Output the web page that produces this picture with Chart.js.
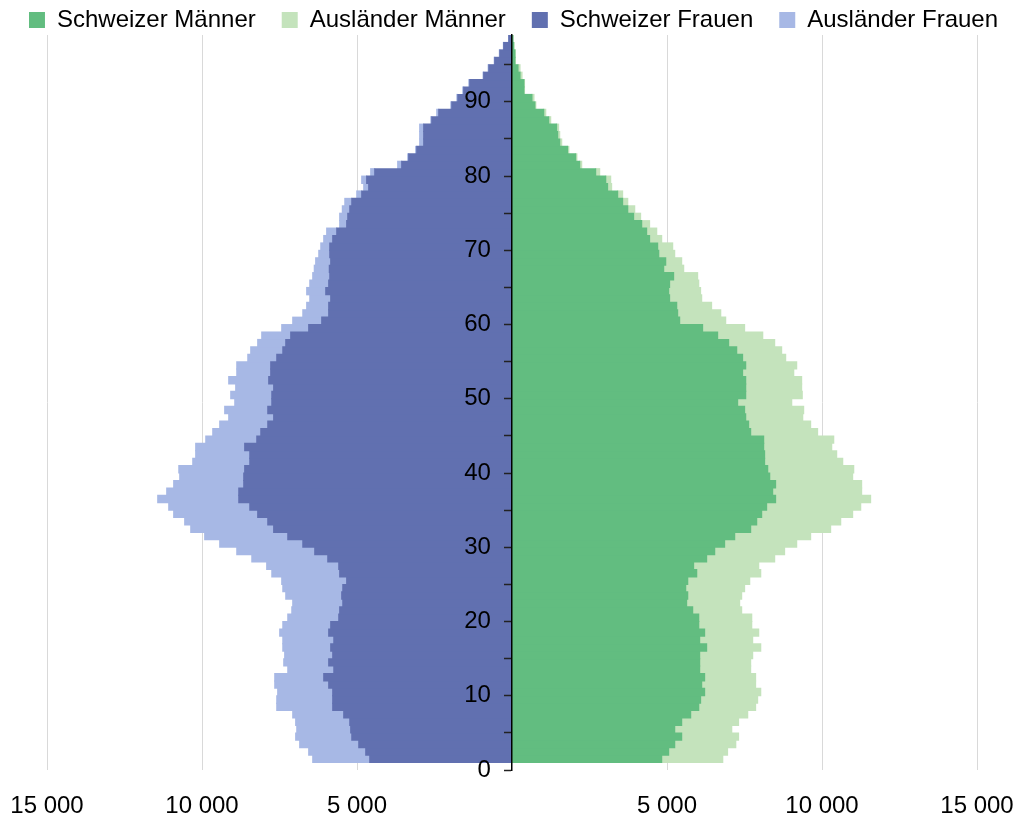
<!DOCTYPE html>
<html>
<head>
<meta charset="utf-8">
<script src="https://cdn.jsdelivr.net/npm/chart.js@4.4.1/dist/chart.umd.min.js"></script>
<style>
  html, body { margin: 0; padding: 0; background: #fff; }
  #wrap { width: 1027px; height: 820px; position: relative; }
</style>
</head>
<body>
<div id="wrap"><canvas id="pyramid"></canvas></div>
<script>
// one bar per age slot, bar k covers [k, k+1] on the age axis
const ages = [
  1, 2, 3, 4, 5, 6, 7, 8, 9, 10, 11, 12, 13, 14, 15, 16, 17, 18, 19, 20,
  21, 22, 23, 24, 25, 26, 27, 28, 29, 30, 31, 32, 33, 34, 35, 36, 37, 38, 39, 40,
  41, 42, 43, 44, 45, 46, 47, 48, 49, 50, 51, 52, 53, 54, 55, 56, 57, 58, 59, 60,
  61, 62, 63, 64, 65, 66, 67, 68, 69, 70, 71, 72, 73, 74, 75, 76, 77, 78, 79, 80,
  81, 82, 83, 84, 85, 86, 87, 88, 89, 90, 91, 92, 93, 94, 95, 96, 97, 98,
];

const schweizerMaenner = [
  4830, 5055, 5250, 5475, 5250, 5475, 5765, 6025, 6085, 6215,
  6120, 6215, 6055, 6055, 6055, 6280, 6055, 6215, 6025, 6025,
  5830, 5635, 5670, 5605, 5670, 5960, 5860, 6280, 6540, 6860,
  7185, 7700, 7895, 8055, 8215, 8505, 8410, 8505, 8315, 8250,
  8150, 8150, 8120, 8120, 7700, 7635, 7540, 7505, 7280, 7540,
  7540, 7540, 7440, 7540, 7440, 7250, 6990, 6635, 6150, 5410,
  5345, 5315, 5085, 5055, 5085, 5215, 4895, 4960, 4735, 4700,
  4440, 4345, 4185, 3925, 3735, 3570, 3410, 3085, 3025, 2700,
  2185, 2055, 1795, 1540, 1475, 1440, 1185, 1025, 740, 645,
  385, 385, 260, 195, 95, 95, 55, 30,
];

const auslaenderMaenner = [
  1970, 1900, 1970, 1835, 1840, 1835, 1840, 1835, 1840, 1810,
  1740, 1645, 1645, 1645, 1710, 1745, 1710, 1745, 1710, 1710,
  1580, 1710, 1740, 1900, 2000, 2065, 2100, 2195, 2255, 2325,
  2450, 2580, 2710, 2935, 3035, 3065, 2870, 2775, 2675, 2775,
  2520, 2325, 2195, 2260, 2160, 2000, 1840, 1905, 1745, 1825,
  1805, 1805, 1650, 1645, 1390, 1450, 1485, 1455, 1355, 1485,
  1390, 1125, 1035, 1030, 940, 775, 645, 515, 515, 485,
  390, 325, 255, 225, 225, 165, 160, 130, 160, 130,
  65, 40, 40, 65, 65, 65, 65, 65, 30, 65,
  20, 20, 65, 65, 15, 10, 10, 5,
];

const schweizerFrauen = [
  4590, 4720, 4945, 5170, 5205, 5235, 5430, 5785, 5785, 5785,
  5915, 6075, 5750, 5915, 5785, 5850, 5750, 5915, 5850, 5590,
  5560, 5460, 5495, 5460, 5335, 5560, 5590, 5945, 6365, 6750,
  7235, 7690, 7880, 8205, 8460, 8815, 8815, 8655, 8655, 8625,
  8460, 8460, 8625, 8235, 8105, 7880, 7690, 7880, 7750, 7750,
  7690, 7850, 7785, 7785, 7590, 7395, 7300, 7140, 6560, 6140,
  5915, 5915, 5850, 6010, 5915, 5880, 5895, 5850, 5880, 5880,
  5785, 5655, 5335, 5300, 5235, 5170, 4850, 4625, 4690, 4430,
  3560, 3335, 3075, 2850, 2850, 2850, 2590, 2365, 1945, 1750,
  1560, 1365, 915, 750, 560, 395, 270, 105,
];

const auslaenderFrauen = [
  1840, 1840, 1905, 1810, 1740, 1745, 1645, 1805, 1805, 1775,
  1740, 1580, 1485, 1450, 1550, 1545, 1645, 1580, 1545, 1645,
  1545, 1615, 1805, 1935, 2095, 2190, 2325, 2450, 2515, 2680,
  2680, 2675, 2680, 2710, 2615, 2615, 2325, 2260, 2065, 2125,
  1840, 1745, 1580, 1645, 1550, 1550, 1450, 1390, 1195, 1325,
  1225, 1290, 1095, 1095, 935, 1035, 905, 935, 870, 935,
  835, 710, 675, 615, 610, 550, 485, 485, 355, 290,
  290, 325, 225, 260, 240, 225, 160, 160, 160, 130,
  130, 30, 35, 130, 130, 130, 30, 65, 30, 30,
  30, 30, 20, 20, 15, 15, 10, 5,
];

function thousands(v) {
  return String(Math.abs(v)).replace(/\B(?=(\d{3})+(?!\d))/g, " ");
}

// women go to the left, so their values are drawn negative
function toPoints(values, sign) {
  return values.map((v, i) => ({ x: sign * v, y: ages[i] + 0.5 }));
}

// legend sits higher than chart.js would put it
const legendHeight = {
  id: "legendHeight",
  beforeInit(chart) {
    const fit = chart.legend.fit;
    chart.legend.fit = function () {
      fit.call(this);
      this.height = 53;
    };
  },
};

Chart.defaults.font.family = "'Liberation Sans', Arial, sans-serif";
Chart.defaults.font.size = 24;
Chart.defaults.color = "#000";

new Chart(document.getElementById("pyramid"), {
  type: "bar",
  data: {
    datasets: [
      { label: "Schweizer Männer", data: toPoints(schweizerMaenner, 1), backgroundColor: "#62BD80" },
      { label: "Ausländer Männer", data: toPoints(auslaenderMaenner, 1), backgroundColor: "#C4E3BC" },
      { label: "Schweizer Frauen", data: toPoints(schweizerFrauen, -1), backgroundColor: "#6170B0" },
      { label: "Ausländer Frauen", data: toPoints(auslaenderFrauen, -1), backgroundColor: "#A7B8E5" },
    ],
  },
  options: {
    indexAxis: "y",
    responsive: true,
    maintainAspectRatio: false,
    animation: false,
    layout: { padding: { top: -18, left: 0, right: 0, bottom: 0 } },
    datasets: {
      bar: {
        barPercentage: 1,
        categoryPercentage: 1,
        grouped: false,
        borderWidth: 0,
        inflateAmount: 0.5,
      },
    },
    plugins: {
      legend: {
        position: "top",
        labels: { boxWidth: 16, boxHeight: 16, padding: 26, color: "#000", font: { size: 24 } },
      },
      tooltip: { enabled: false },
    },
    scales: {
      x: {
        type: "linear",
        min: -15000,
        max: 15000,
        stacked: true,
        afterFit: (scale) => {
          scale.paddingLeft = 47;
          scale.paddingRight = 50;
          scale.height = 50;
        },
        ticks: {
          stepSize: 5000,
          padding: 22,
          maxRotation: 0,
          autoSkip: false,
          color: "#000",
          font: { size: 24 },
          callback: (v) => (v === 0 ? "" : thousands(v)),
        },
        grid: {
          drawTicks: false,
          color: (c) => (c.tick && c.tick.value === 0 ? "rgba(0,0,0,0)" : "#D9D9D9"),
        },
        border: { display: false },
      },
      y: {
        type: "linear",
        min: 0,
        max: 99,
        offset: false,
        position: { x: 0 },
        ticks: { display: false, stepSize: 5, includeBounds: false },
        grid: {
          offset: false,
          drawOnChartArea: false,
          drawTicks: true,
          tickLength: 7,
          tickColor: "#222",
          tickWidth: 1.5,
          z: 1,
        },
        border: { color: "#000", width: 1.5, z: 1 },
      },
      yLabels: {
        axis: "y",
        type: "linear",
        min: 0,
        max: 99,
        offset: false,
        position: { x: -680 },
        ticks: { stepSize: 10, includeBounds: false, padding: 0, color: "#000", font: { size: 24 }, z: 1 },
        grid: { display: false, drawTicks: false, offset: false },
        border: { display: false },
      },
    },
  },
  plugins: [legendHeight],
});
</script>
</body>
</html>
